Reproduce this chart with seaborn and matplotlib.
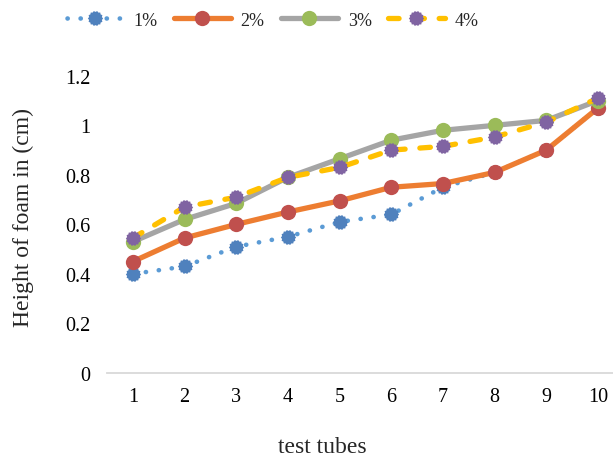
import numpy as np
import pandas as pd
import matplotlib
matplotlib.use("Agg")
import matplotlib.pyplot as plt
from matplotlib.path import Path
import seaborn as sns

# Foam height per test tube for each concentration
tubes = [1, 2, 3, 4, 5, 6, 7, 8, 9, 10]
conc_1 = [0.40, 0.43, 0.51, 0.55, 0.61, 0.64, 0.75, 0.81, 0.90, 1.07]
conc_2 = [0.45, 0.545, 0.60, 0.65, 0.695, 0.75, 0.765, 0.81, 0.90, 1.07]
conc_3 = [0.53, 0.62, 0.685, 0.79, 0.865, 0.94, 0.98, 1.00, 1.02, 1.10]
conc_4 = [0.545, 0.67, 0.71, 0.79, 0.83, 0.90, 0.915, 0.953, 1.013, 1.11]
labels = ["1%", "2%", "3%", "4%"]
y_ticks = [0, 0.2, 0.4, 0.6, 0.8, 1, 1.2]
y_tick_labels = ["0", "0.2", "0.4", "0.6", "0.8", "1", "1.2"]

sns.set_theme(style="white")
plt.rcParams["font.family"] = ["Liberation Serif", "DejaVu Serif"]

# jagged round marker (dashed-outline look)
n = 28
ang = np.linspace(0, 2 * np.pi, n, endpoint=False)
rad = np.where(np.arange(n) % 2 == 0, 1.0, 0.86)
verts = np.column_stack([rad * np.cos(ang), rad * np.sin(ang)])
verts = np.vstack([verts, verts[:1]])
codes = [Path.MOVETO] + [Path.LINETO] * (n - 1) + [Path.CLOSEPOLY]
gear = Path(verts, codes)

fig = plt.figure(figsize=(6.13, 4.6), dpi=100)
ax = fig.add_axes([0.1746, 0.187, 0.843, 0.646])

styles = [
    dict(color="#5B9BD5", lw=3.3, linestyle=(0, (0.05, 2.8)), marker=gear,
         mfc="#4F81BD", mec="#4F81BD", ms=11, solid_capstyle="round",
         dash_capstyle="round"),
    dict(color="#ED7D31", lw=3.8, linestyle="-", marker="o",
         mfc="#C0504D", mec="#C0504D", ms=11),
    dict(color="#A5A5A5", lw=3.8, linestyle="-", marker="o",
         mfc="#9BBB59", mec="#9BBB59", ms=11),
    dict(color="#FFC000", lw=3.8, linestyle=(0, (2.0, 2.8)), marker=gear,
         mfc="#8064A2", mec="#8064A2", ms=11, dash_capstyle="round"),
]

series = [conc_1, conc_2, conc_3, conc_4]
for vals, lab, st in zip(series, labels, styles):
    df = pd.DataFrame({"tube": tubes, "height": vals})
    sns.lineplot(data=df, x="tube", y="height", ax=ax, label=lab,
                 markeredgewidth=0, **st)

ax.set_xlim(0.5, 10.5)
ax.set_ylim(0, 1.2)
ax.set_xticks(tubes)
ax.set_xticklabels([str(t) for t in tubes], fontsize=14.5)
ax.set_yticks(y_ticks)
ax.set_yticklabels(y_tick_labels, fontsize=14.5)
ax.tick_params(axis="both", length=0, colors="black")
ax.tick_params(axis="y", pad=12)
ax.tick_params(axis="x", pad=10)

for side in ["top", "right", "left"]:
    ax.spines[side].set_visible(False)
ax.spines["bottom"].set_color("#D9D9D9")
ax.spines["bottom"].set_linewidth(1.3)
ax.grid(False)

ax.set_xlabel("test tubes", fontsize=17)
ax.set_ylabel("Height of foam in (cm)", fontsize=17)
ax.xaxis.set_label_coords((322 - 107) / 517, -0.249)
ax.xaxis.label.set_va("center")
ax.yaxis.set_label_coords((23 - 107) / 517, 0.527)
ax.yaxis.label.set_va("center")

handles, labs = ax.get_legend_handles_labels()
ax.legend_.remove()
fig.legend(handles, labs, loc="center", bbox_to_anchor=(0.445, 0.954),
           ncol=4, frameon=False, fontsize=13, handlelength=3.15,
           handletextpad=0.55, columnspacing=0.9, numpoints=1)

fig.savefig("out.png", dpi=100)
